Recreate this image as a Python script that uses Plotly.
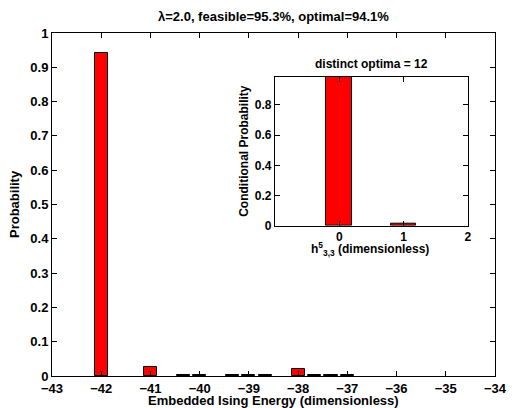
import plotly.graph_objects as go

# ---- data ----
energies = [-42, -41, -40.333, -40, -39.333, -39, -38.667, -38, -37.667, -37.333, -37]
probabilities = [0.941, 0.025, 0.004, 0.004, 0.002, 0.003, 0.002, 0.019, 0.003, 0.002, 0.002]
x_ticks = [-43, -42, -41, -40, -39, -38, -37, -36, -35, -34]
y_ticks = [0, 0.1, 0.2, 0.3, 0.4, 0.5, 0.6, 0.7, 0.8, 0.9, 1]

h_values = [0, 1]
cond_probabilities = [0.9874, 0.0126]
inset_x_ticks = [0, 1, 2]
inset_y_ticks = [0, 0.2, 0.4, 0.6, 0.8]

title_text = "λ=2.0, feasible=95.3%, optimal=94.1%"
inset_title = "distinct optima = 12"

FONT = "Liberation Sans"
OFF = 8  # page body margin
VW, VH = 517, 408
W, H = VW - OFF, VH - OFF
# plot area in viewport pixels
PL, PR, PT, PB = 52, 507, 33, 376
pw, ph = PR - PL, PB - PT


def px(x):
    return (x - PL) / pw


def py(y):
    return (PB - y) / ph


fig = go.Figure()
fig.add_trace(go.Bar(x=energies, y=probabilities, width=0.8 / 3,
                     marker=dict(color="#ff0000", line=dict(color="black", width=1)),
                     xaxis="x", yaxis="y", showlegend=False))
fig.add_trace(go.Bar(x=h_values, y=cond_probabilities, width=0.4,
                     marker=dict(color="#ff0000", line=dict(color="black", width=1)),
                     xaxis="x2", yaxis="y2", showlegend=False))

axis_common = dict(showgrid=False, zeroline=False, showline=True, linecolor="black",
                   linewidth=1, ticks="inside", ticklen=5, tickcolor="black",
                   mirror="ticks")

fig.update_layout(
    width=W, height=H,
    margin=dict(l=PL - OFF, r=VW - PR, t=PT - OFF, b=VH - PB),
    paper_bgcolor="white", plot_bgcolor="white",
    font=dict(family=FONT, size=13, color="black", weight="bold"),
    xaxis=dict(range=[-43, -34], tickvals=x_ticks, domain=[0, 1],
               tickfont=dict(size=13, weight="bold"), anchor="y", **axis_common),
    yaxis=dict(range=[0, 1], tickvals=y_ticks, domain=[0, 1],
               tickfont=dict(size=13, weight="bold"), anchor="x", **axis_common),
    xaxis2=dict(range=[-1, 2], tickvals=inset_x_ticks, domain=[px(281), px(479)],
                tickfont=dict(size=12, weight="bold"), anchor="y2", **axis_common),
    yaxis2=dict(range=[0, 0.9874], tickvals=inset_y_ticks, domain=[py(225.7), py(76.7)],
                tickfont=dict(size=12, weight="bold"), anchor="x2", **axis_common),
    bargap=0,
)

ann = [
    dict(text=title_text, x=px(279.5), y=py(16), font=dict(size=13, weight="bold")),
    dict(text="Embedded Ising Energy (dimensionless)", x=px(279.5), y=py(400),
         font=dict(size=13, weight="bold")),
    dict(text="Probability", x=px(14), y=py(204), textangle=-90,
         font=dict(size=13, weight="bold")),
    dict(text=inset_title, x=px(380), y=py(64), font=dict(size=12, weight="bold")),
    dict(text="Conditional Probability", x=px(249), y=py(151), textangle=-90,
         font=dict(size=12, weight="bold")),
    dict(text="h<sup>5</sup><sub>3,3</sub> (dimensionless)", x=px(379), y=py(249),
         font=dict(size=12, weight="bold")),
]
for a in ann:
    a.update(xref="paper", yref="paper", showarrow=False, xanchor="center", yanchor="middle")
fig.update_layout(annotations=ann)

fig.write_html("out.html")
